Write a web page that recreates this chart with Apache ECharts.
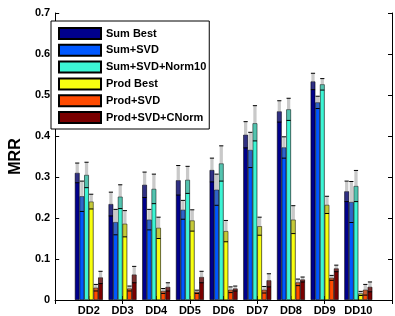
<!DOCTYPE html>
<html>
<head>
<meta charset="utf-8">
<script src="https://cdn.jsdelivr.net/npm/echarts@6/dist/echarts.min.js"></script>
<style>
  html, body { margin: 0; padding: 0; background: #fff; }
  #chart { width: 395px; height: 316px; }
</style>
</head>
<body>
<div id="chart"></div>
<script>
// datasets on the x axis
var categories = ['DD2', 'DD3', 'DD4', 'DD5', 'DD6', 'DD7', 'DD8', 'DD9', 'DD10'];
var seriesNames = ['Sum Best', 'Sum+SVD', 'Sum+SVD+Norm10', 'Prod Best', 'Prod+SVD', 'Prod+SVD+CNorm'];

// mean MRR per method
var sumBest      = [0.310, 0.234, 0.281, 0.292, 0.317, 0.403, 0.460, 0.533, 0.265];
var sumSvd       = [0.253, 0.190, 0.196, 0.220, 0.269, 0.366, 0.372, 0.482, 0.239];
var sumSvdNorm10 = [0.305, 0.252, 0.271, 0.293, 0.333, 0.431, 0.465, 0.526, 0.278];
var prodBest     = [0.240, 0.186, 0.176, 0.194, 0.168, 0.180, 0.196, 0.232, 0.016];
var prodSvd      = [0.030, 0.028, 0.022, 0.020, 0.025, 0.025, 0.043, 0.054, 0.025];
var prodSvdCNorm = [0.055, 0.062, 0.032, 0.056, 0.028, 0.048, 0.050, 0.077, 0.032];

// error bar half lengths
var sumBestErr      = [0.024, 0.029, 0.031, 0.036, 0.029, 0.032, 0.026, 0.020, 0.025];
var sumSvdErr       = [0.037, 0.031, 0.025, 0.023, 0.038, 0.043, 0.026, 0.015, 0.050];
var sumSvdNorm10Err = [0.031, 0.029, 0.036, 0.033, 0.043, 0.043, 0.027, 0.014, 0.038];
var prodBestErr     = [0.018, 0.032, 0.026, 0.026, 0.026, 0.022, 0.034, 0.021, 0.005];
var prodSvdErr      = [0.008, 0.006, 0.006, 0.004, 0.007, 0.008, 0.008, 0.006, 0.013];
var prodSvdCNormErr = [0.015, 0.020, 0.010, 0.014, 0.006, 0.016, 0.006, 0.008, 0.012];

var yTicks = [0, 0.1, 0.2, 0.3, 0.4, 0.5, 0.6, 0.7];

var colors = ['#00008c', '#0058ff', '#3cf5d4', '#f8ff10', '#ff4a00', '#7a0000'];
var font = 'Liberation Sans, Arial, sans-serif';

var means = [sumBest, sumSvd, sumSvdNorm10, prodBest, prodSvd, prodSvdCNorm];
var errs = [sumBestErr, sumSvdErr, sumSvdNorm10Err, prodBestErr, prodSvdErr, prodSvdCNormErr];

// matlab style xlim [0, 10]: pad an empty slot each side
var axisCats = [''].concat(categories, ['']);
var groupFrac = 0.83;

var series = seriesNames.map(function (name, s) {
  return {
    name: name,
    type: 'bar',
    barGap: '0%',
    barCategoryGap: '17%',
    itemStyle: { color: colors[s], borderColor: '#000', borderWidth: 0.6 },
    data: [null].concat(means[s], [null])
  };
});

var errData = [];
means.forEach(function (arr, s) {
  arr.forEach(function (v, i) {
    errData.push([i + 1, v, errs[s][i], s]);
  });
});

series.push({
  type: 'custom',
  z: 10,
  silent: true,
  encode: { x: 0, y: 1 },
  data: errData,
  renderItem: function (params, api) {
    var ci = api.value(0), v = api.value(1), e = api.value(2), s = api.value(3);
    var band = api.size([1, 0])[0];
    var bw = band * groupFrac / 6;
    var c = api.coord([ci, v]);
    var x = c[0] + (s - 2.5) * bw;
    var top = api.coord([ci, v + e])[1];
    var bot = api.coord([ci, Math.max(v - e, 0)])[1];
    var rw = bw * 0.7, cw = bw * 0.9;
    return {
      type: 'group',
      children: [
        { type: 'rect', shape: { x: x - rw / 2, y: top, width: rw, height: bot - top },
          style: { fill: 'rgba(120,120,120,0.4)' } },
        { type: 'line', shape: { x1: x - cw / 2, y1: top, x2: x + cw / 2, y2: top },
          style: { stroke: '#000', lineWidth: 1 } },
        { type: 'line', shape: { x1: x - cw / 2, y1: bot, x2: x + cw / 2, y2: bot },
          style: { stroke: '#000', lineWidth: 1 } }
      ]
    };
  }
});

var chart = echarts.init(document.getElementById('chart'));
chart.setOption({
  animation: false,
  backgroundColor: '#fff',
  textStyle: { fontFamily: font },
  grid: { left: 43, right: 3, top: 13, bottom: 15, containLabel: false },
  legend: {
    orient: 'vertical',
    left: 51,
    top: 21,
    padding: [6, 3, 5, 7],
    itemWidth: 42,
    itemHeight: 11,
    itemGap: 3.8,
    borderColor: '#000',
    borderWidth: 1,
    borderRadius: 0,
    backgroundColor: '#fff',
    icon: 'rect',
    data: seriesNames,
    textStyle: { fontFamily: font, fontWeight: 'bold', fontSize: 11, color: '#000' }
  },
  xAxis: [{
    type: 'category',
    data: axisCats,
    boundaryGap: false,
    axisLine: { lineStyle: { color: '#000', width: 1 } },
    axisTick: { inside: true, length: 4, lineStyle: { color: '#000' } },
    axisLabel: { fontFamily: font, fontWeight: 'bold', fontSize: 11, color: '#000', margin: 5, interval: 0 },
    splitLine: { show: false }
  }, {
    type: 'category',
    position: 'top',
    data: axisCats,
    boundaryGap: false,
    axisLine: { lineStyle: { color: '#000', width: 1 } },
    axisTick: { inside: true, length: 4, lineStyle: { color: '#000' } },
    axisLabel: { show: false },
    splitLine: { show: false }
  }],
  yAxis: [{
    type: 'value',
    min: yTicks[0],
    max: yTicks[yTicks.length - 1],
    interval: 0.1,
    name: 'MRR',
    nameLocation: 'middle',
    nameRotate: 90,
    nameGap: 24,
    nameTextStyle: { fontFamily: font, fontWeight: 'bold', fontSize: 16, color: '#000' },
    axisLine: { show: true, lineStyle: { color: '#000', width: 1 } },
    axisTick: { show: true, inside: true, length: 4, lineStyle: { color: '#000' } },
    axisLabel: {
      fontFamily: font, fontWeight: 'bold', fontSize: 11, color: '#000', margin: 5,
      formatter: function (v) { return v === 0 ? '0' : v.toFixed(1); }
    },
    splitLine: { show: false }
  }, {
    type: 'value',
    position: 'right',
    min: yTicks[0],
    max: yTicks[yTicks.length - 1],
    interval: 0.1,
    axisLine: { show: true, lineStyle: { color: '#000', width: 1 } },
    axisTick: { show: true, inside: true, length: 4, lineStyle: { color: '#000' } },
    axisLabel: { show: false },
    splitLine: { show: false }
  }],
  series: series
});
</script>
</body>
</html>
